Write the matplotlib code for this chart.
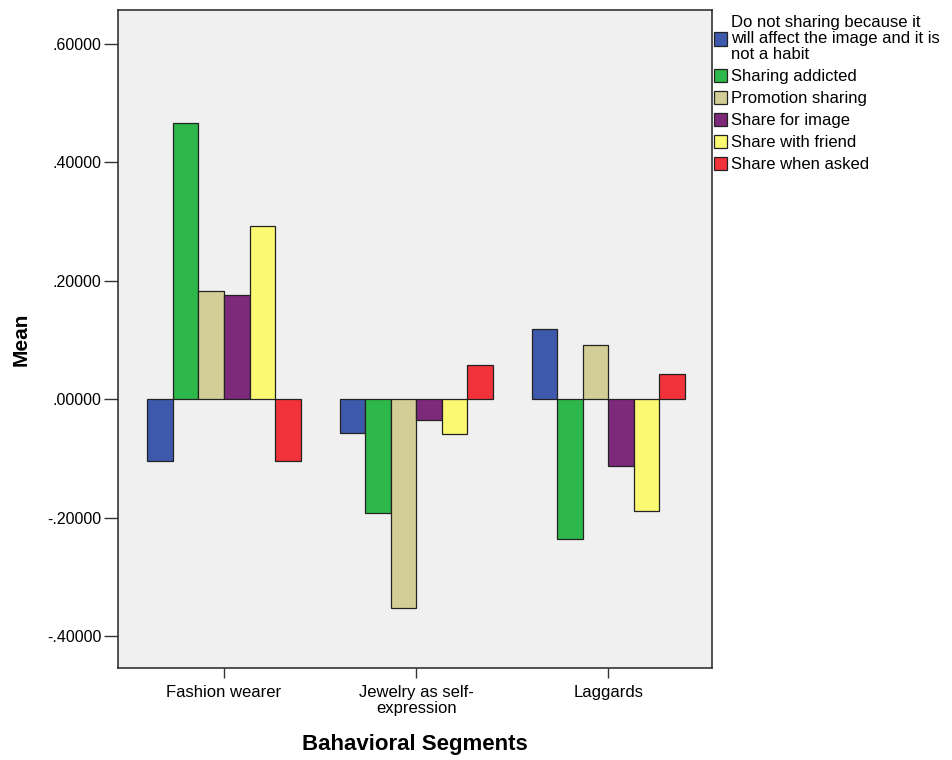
import matplotlib
matplotlib.use("Agg")
import matplotlib.pyplot as plt
import numpy as np
from matplotlib.ticker import FuncFormatter, FixedLocator

plt.rcParams['font.family'] = ['Liberation Sans', 'DejaVu Sans']

categories = ["Fashion wearer", "Jewelry as self-\nexpression", "Laggards"]
series_names = [
    "Do not sharing because it\nwill affect the image and it is\nnot a habit",
    "Sharing addicted",
    "Promotion sharing",
    "Share for image",
    "Share with friend",
    "Share when asked",
]
values = [
    [-0.104, -0.057, 0.118],
    [0.466, -0.192, -0.236],
    [0.182, -0.352, 0.091],
    [0.175, -0.035, -0.113],
    [0.292, -0.059, -0.189],
    [-0.104, 0.058, 0.043],
]
colors = ["#3D59AB", "#2EB84B", "#D3CE97", "#7D2A7B", "#FBF872", "#F1323A"]
yticks = [-0.4, -0.2, 0.0, 0.2, 0.4, 0.6]

fig = plt.figure(figsize=(9.53, 7.6), dpi=100)
ax = fig.add_axes([118/953, 1 - 668/760, (712-118)/953, (668-10)/760])
ax.set_facecolor("#F0F0F0")

n = len(series_names)
width = 0.133
x = np.arange(len(categories))
for i in range(n):
    offs = (i - (n - 1) / 2) * width
    ax.bar(x + offs, values[i], width=width, color=colors[i], edgecolor="#222222",
           linewidth=0.9, label=series_names[i], zorder=3)

ax.set_xlim(-0.552, 2.54)
ax.set_ylim(-0.454, 0.657)
ax.set_xticks(x)
ax.set_xticklabels(categories, fontsize=12)
for t in ax.get_xticklabels():
    t.set_linespacing(1.1)
ax.yaxis.set_major_locator(FixedLocator(yticks))

def fmt(v, pos):
    s = "%.5f" % v
    if s.startswith("-0"):
        s = "-" + s[2:]
    elif s.startswith("0"):
        s = s[1:]
    return s
ax.yaxis.set_major_formatter(FuncFormatter(fmt))
ax.tick_params(axis='y', labelsize=11.5, length=10, width=1, color="#333333", pad=2)
ax.tick_params(axis='x', labelsize=12, length=7, width=1, color="#333333", pad=5)
for sp in ax.spines.values():
    sp.set_color("#333333")
    sp.set_linewidth(1.2)

ax.set_ylabel("Mean", fontsize=15, fontweight='bold', labelpad=12)
ax.set_xlabel("Bahavioral Segments", fontsize=16, fontweight='bold', labelpad=13)

leg = ax.legend(loc='upper left', bbox_to_anchor=(1.003, 0.992), frameon=False,
                prop={'size': 12}, handlelength=0.78, handleheight=0.9, handletextpad=0.25,
                labelspacing=0.38, borderaxespad=0, borderpad=0)
for t in leg.get_texts():
    t.set_linespacing(1.08)
for h in leg.legend_handles:
    h.set_edgecolor("#222222")
    h.set_linewidth(0.9)

fig.savefig("out.png", dpi=100, facecolor="white")
